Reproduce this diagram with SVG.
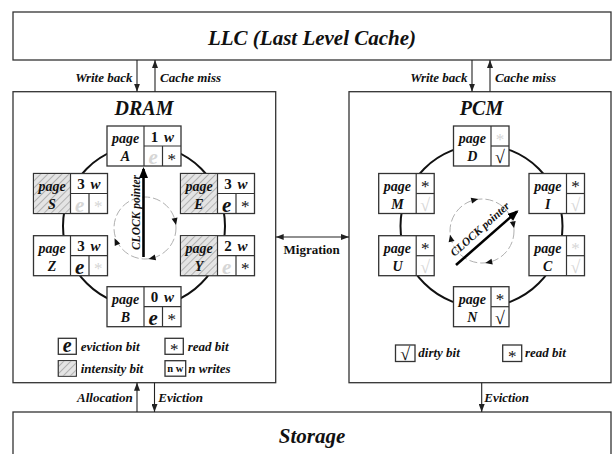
<svg xmlns="http://www.w3.org/2000/svg" width="614" height="454" viewBox="0 0 614 454">
<style>
.t{font-family:"Liberation Serif","Times New Roman",serif;font-weight:bold;font-style:italic;fill:#111}
.title{font-size:21px;text-anchor:middle}
.lbl{font-size:13px}
.mid{text-anchor:middle}
.end{text-anchor:end}
.box{fill:#fff;stroke:#333;stroke-width:1.3}
.frame{fill:#fff;stroke:#333;stroke-width:1.3}
.cell{fill:none;stroke:#333;stroke-width:1.2}
.pg{font-size:14px;text-anchor:middle}
.nw{font-family:"Liberation Serif",serif;font-weight:bold;font-size:15px;text-anchor:middle;fill:#111;word-spacing:2px}
.e{font-size:21px;text-anchor:middle}
.ast{font-family:"Liberation Serif",serif;font-size:17px;text-anchor:middle;fill:#111}
.chk{font-family:"Liberation Serif",serif;font-size:18px;text-anchor:middle;fill:#111}
.fd{fill:#d6d6d6}
.ring{fill:none;stroke:#111;stroke-width:2}
.inner{fill:none;stroke:#b0b0b0;stroke-width:1;stroke-dasharray:8 3}
.conn{fill:none;stroke:#222;stroke-width:1.1}
.ptr{fill:none;stroke:#000;stroke-width:2.6}
.clk{font-size:11.5px;text-anchor:middle}
</style>
<defs>
<pattern id="hatch" width="5" height="5" patternUnits="userSpaceOnUse" patternTransform="rotate(45)">
<rect width="5" height="5" fill="#e4e4e4"/>
<line x1="0" y1="0" x2="0" y2="5" stroke="#a4a4a4" stroke-width="1.6"/>
</pattern>
<marker id="arr" markerWidth="8" markerHeight="6" refX="8" refY="3" orient="auto-start-reverse" markerUnits="userSpaceOnUse">
<path d="M0,0 L8,3 L0,6 z" fill="#222"/>
</marker>
<marker id="parr" markerWidth="11" markerHeight="9" refX="9" refY="4.5" orient="auto" markerUnits="userSpaceOnUse">
<path d="M0,0 L11,4.5 L0,9 z" fill="#000"/>
</marker>
<path id="ah" d="M-3.5,-3 L3.5,0 L-3.5,3 z" fill="#111"/>
</defs>

<!-- LLC -->
<g id="llc">
<rect class="frame" x="13" y="12" width="598" height="48"/>
<text class="t title" x="312" y="44.5">LLC (Last Level Cache)</text>
</g>

<!-- Storage -->
<g id="storage">
<rect class="frame" x="13" y="412" width="598" height="60"/>
<text class="t title" x="312" y="443">Storage</text>
</g>

<!-- DRAM -->
<g id="dram">
<rect class="frame" x="13" y="91.7" width="262.7" height="291"/>
<text class="t" x="144" y="115" font-size="20" text-anchor="middle">DRAM</text>
<circle class="ring" cx="144" cy="226" r="81"/>
<circle class="inner" cx="145" cy="228" r="31"/>
<use href="#ah" transform="translate(175.3,221.6) rotate(78)"/>
<use href="#ah" transform="translate(152,258.2) rotate(167)"/>
<use href="#ah" transform="translate(116,241.5) rotate(245)"/>
<line class="ptr" x1="143.5" y1="257" x2="143.5" y2="169" marker-end="url(#parr)"/>
<text class="t clk" transform="translate(140,212.5) rotate(-90)">CLOCK pointer</text>
</g>

<g id="page-A" transform="translate(107,126)">
<rect class="box" width="74" height="40"/>
<line class="cell" x1="37" y1="0" x2="37" y2="40"/><line class="cell" x1="37" y1="20" x2="74" y2="20"/><line class="cell" x1="55.5" y1="20" x2="55.5" y2="40"/>
<text class="t pg" x="18.5" y="17.3">page</text><text class="t pg" x="18.5" y="35">A</text>
<text class="nw" x="55.5" y="15.5">1 <tspan font-style="italic">w</tspan></text>
<text class="t e fd" x="46.25" y="38">e</text><text class="ast" x="64.75" y="38.5">*</text>
</g>
<g id="page-S" transform="translate(33.5,173.5)">
<rect class="box" width="74" height="40"/>
<rect x="0.6" y="0.6" width="36" height="38.8" fill="url(#hatch)"/>
<line class="cell" x1="37" y1="0" x2="37" y2="40"/><line class="cell" x1="37" y1="20" x2="74" y2="20"/><line class="cell" x1="55.5" y1="20" x2="55.5" y2="40"/>
<text class="t pg" x="18.5" y="17.3">page</text><text class="t pg" x="18.5" y="35">S</text>
<text class="nw" x="55.5" y="15.5">3 <tspan font-style="italic">w</tspan></text>
<text class="t e fd" x="46.25" y="38">e</text><text class="ast fd" x="64.75" y="38.5">*</text>
</g>
<g id="page-E" transform="translate(180.5,173.5)">
<rect class="box" width="74" height="40"/>
<rect x="0.6" y="0.6" width="36" height="38.8" fill="url(#hatch)"/>
<line class="cell" x1="37" y1="0" x2="37" y2="40"/><line class="cell" x1="37" y1="20" x2="74" y2="20"/><line class="cell" x1="55.5" y1="20" x2="55.5" y2="40"/>
<text class="t pg" x="18.5" y="17.3">page</text><text class="t pg" x="18.5" y="35">E</text>
<text class="nw" x="55.5" y="15.5">3 <tspan font-style="italic">w</tspan></text>
<text class="t e" x="46.25" y="38">e</text><text class="ast" x="64.75" y="38.5">*</text>
</g>
<g id="page-Z" transform="translate(33.5,235.7)">
<rect class="box" width="74" height="40"/>
<line class="cell" x1="37" y1="0" x2="37" y2="40"/><line class="cell" x1="37" y1="20" x2="74" y2="20"/><line class="cell" x1="55.5" y1="20" x2="55.5" y2="40"/>
<text class="t pg" x="18.5" y="17.3">page</text><text class="t pg" x="18.5" y="35">Z</text>
<text class="nw" x="55.5" y="15.5">3 <tspan font-style="italic">w</tspan></text>
<text class="t e" x="46.25" y="38">e</text><text class="ast fd" x="64.75" y="38.5">*</text>
</g>
<g id="page-Y" transform="translate(180.5,235.7)">
<rect class="box" width="74" height="40"/>
<rect x="0.6" y="0.6" width="36" height="38.8" fill="url(#hatch)"/>
<line class="cell" x1="37" y1="0" x2="37" y2="40"/><line class="cell" x1="37" y1="20" x2="74" y2="20"/><line class="cell" x1="55.5" y1="20" x2="55.5" y2="40"/>
<text class="t pg" x="18.5" y="17.3">page</text><text class="t pg" x="18.5" y="35">Y</text>
<text class="nw" x="55.5" y="15.5">2 <tspan font-style="italic">w</tspan></text>
<text class="t e fd" x="46.25" y="38">e</text><text class="ast" x="64.75" y="38.5">*</text>
</g>
<g id="page-B" transform="translate(107,286.7)">
<rect class="box" width="74" height="40"/>
<line class="cell" x1="37" y1="0" x2="37" y2="40"/><line class="cell" x1="37" y1="20" x2="74" y2="20"/><line class="cell" x1="55.5" y1="20" x2="55.5" y2="40"/>
<text class="t pg" x="18.5" y="17.3">page</text><text class="t pg" x="18.5" y="35">B</text>
<text class="nw" x="55.5" y="15.5">0 <tspan font-style="italic">w</tspan></text>
<text class="t e" x="46.25" y="38">e</text><text class="ast" x="64.75" y="38.5">*</text>
</g>

<g id="dram-legend">
<rect class="box" x="58.3" y="338.3" width="18" height="16"/>
<text class="t" x="67.3" y="352" font-size="20" text-anchor="middle">e</text>
<text class="t lbl" x="80.7" y="350.7">eviction bit</text>
<rect class="box" x="165" y="338.3" width="18.3" height="16"/>
<text class="ast" x="174.2" y="354.5">*</text>
<text class="t lbl" x="187.7" y="350.7">read bit</text>
<rect class="box" x="58.3" y="360.7" width="18" height="15.5"/>
<rect x="58.9" y="361.3" width="16.8" height="14.3" fill="url(#hatch)"/>
<text class="t lbl" x="80.7" y="372.7">intensity bit</text>
<rect class="box" x="165" y="360.7" width="20.7" height="15.5"/>
<text x="175.3" y="372.3" font-family="Liberation Serif,serif" font-weight="bold" font-size="10.5" text-anchor="middle" fill="#111">n w</text>
<text class="t lbl" x="188.3" y="372.7">n writes</text>
</g>

<!-- PCM -->
<g id="pcm">
<rect class="frame" x="349" y="91.7" width="262" height="291"/>
<text class="t" x="481.5" y="115" font-size="20" text-anchor="middle">PCM</text>
<circle class="ring" cx="481.5" cy="226" r="81"/>
<circle class="inner" cx="482" cy="231" r="32"/>
<use href="#ah" transform="translate(474.8,199.8) rotate(-13)"/>
<use href="#ah" transform="translate(513.4,224.9) rotate(79)"/>
<use href="#ah" transform="translate(488.7,262.3) rotate(168)"/>
<use href="#ah" transform="translate(450.8,238.2) rotate(257)"/>
<line class="ptr" x1="456" y1="265" x2="517" y2="211.5" marker-end="url(#parr)"/>
<text class="t clk" transform="translate(482.5,232) rotate(-42)">CLOCK pointer</text>
</g>

<g id="page-D" transform="translate(453.5,126)">
<rect class="box" width="55.5" height="40"/>
<line class="cell" x1="37.5" y1="0" x2="37.5" y2="40"/><line class="cell" x1="37.5" y1="20" x2="55.5" y2="20"/>
<text class="t pg" x="18.75" y="17.3">page</text><text class="t pg" x="18.75" y="35">D</text>
<text class="ast fd" x="46.5" y="18.5">*</text><text class="chk" x="46.5" y="37">√</text>
</g>
<g id="page-M" transform="translate(378.7,173.5)">
<rect class="box" width="55.5" height="40"/>
<line class="cell" x1="37.5" y1="0" x2="37.5" y2="40"/><line class="cell" x1="37.5" y1="20" x2="55.5" y2="20"/>
<text class="t pg" x="18.75" y="17.3">page</text><text class="t pg" x="18.75" y="35">M</text>
<text class="ast" x="46.5" y="18.5">*</text><text class="chk fd" x="46.5" y="37">√</text>
</g>
<g id="page-I" transform="translate(529,173.5)">
<rect class="box" width="55.5" height="40"/>
<line class="cell" x1="37.5" y1="0" x2="37.5" y2="40"/><line class="cell" x1="37.5" y1="20" x2="55.5" y2="20"/>
<text class="t pg" x="18.75" y="17.3">page</text><text class="t pg" x="18.75" y="35">I</text>
<text class="ast" x="46.5" y="18.5">*</text><text class="chk fd" x="46.5" y="37">√</text>
</g>
<g id="page-U" transform="translate(378.7,235.7)">
<rect class="box" width="55.5" height="40"/>
<line class="cell" x1="37.5" y1="0" x2="37.5" y2="40"/><line class="cell" x1="37.5" y1="20" x2="55.5" y2="20"/>
<text class="t pg" x="18.75" y="17.3">page</text><text class="t pg" x="18.75" y="35">U</text>
<text class="ast" x="46.5" y="18.5">*</text><text class="chk fd" x="46.5" y="37">√</text>
</g>
<g id="page-C" transform="translate(529,235.7)">
<rect class="box" width="55.5" height="40"/>
<line class="cell" x1="37.5" y1="0" x2="37.5" y2="40"/><line class="cell" x1="37.5" y1="20" x2="55.5" y2="20"/>
<text class="t pg" x="18.75" y="17.3">page</text><text class="t pg" x="18.75" y="35">C</text>
<text class="ast fd" x="46.5" y="18.5">*</text><text class="chk fd" x="46.5" y="37">√</text>
</g>
<g id="page-N" transform="translate(453.5,286.7)">
<rect class="box" width="55.5" height="40"/>
<line class="cell" x1="37.5" y1="0" x2="37.5" y2="40"/><line class="cell" x1="37.5" y1="20" x2="55.5" y2="20"/>
<text class="t pg" x="18.75" y="17.3">page</text><text class="t pg" x="18.75" y="35">N</text>
<text class="ast" x="46.5" y="18.5">*</text><text class="chk" x="46.5" y="37">√</text>
</g>

<g id="pcm-legend">
<rect class="box" x="395.5" y="345" width="19.5" height="16.5"/>
<text class="chk" x="405.2" y="360">√</text>
<text class="t lbl" x="418.3" y="356.7">dirty bit</text>
<rect class="box" x="502.7" y="345" width="19" height="16.5"/>
<text class="ast" x="512.2" y="361.5">*</text>
<text class="t lbl" x="525" y="356.7">read bit</text>
</g>

<!-- connectors -->
<g id="connectors">
<line class="conn" x1="137" y1="60" x2="137" y2="91.7" marker-end="url(#arr)"/>
<line class="conn" x1="155" y1="91.7" x2="155" y2="60" marker-end="url(#arr)"/>
<line class="conn" x1="472" y1="60" x2="472" y2="91.7" marker-end="url(#arr)"/>
<line class="conn" x1="490" y1="91.7" x2="490" y2="60" marker-end="url(#arr)"/>
<line class="conn" x1="137" y1="412" x2="137" y2="382.7" marker-end="url(#arr)"/>
<line class="conn" x1="154.5" y1="382.7" x2="154.5" y2="412" marker-end="url(#arr)"/>
<line class="conn" x1="481.7" y1="382.7" x2="481.7" y2="412" marker-end="url(#arr)"/>
<line class="conn" x1="275.7" y1="237" x2="349" y2="237" marker-start="url(#arr)" marker-end="url(#arr)"/>
<text class="t lbl end" x="132.5" y="81.7">Write back</text>
<text class="t lbl" x="160" y="81.7">Cache miss</text>
<text class="t lbl end" x="467.5" y="81.7">Write back</text>
<text class="t lbl" x="495" y="81.7">Cache miss</text>
<text class="t lbl end" x="132.7" y="401.7">Allocation</text>
<text class="t lbl" x="158.3" y="401.7">Eviction</text>
<text class="t lbl" x="484.3" y="401.7">Eviction</text>
<text x="311.7" y="254.3" font-family="Liberation Serif,serif" font-weight="bold" font-size="13" text-anchor="middle" fill="#111">Migration</text>
</g>
</svg>
